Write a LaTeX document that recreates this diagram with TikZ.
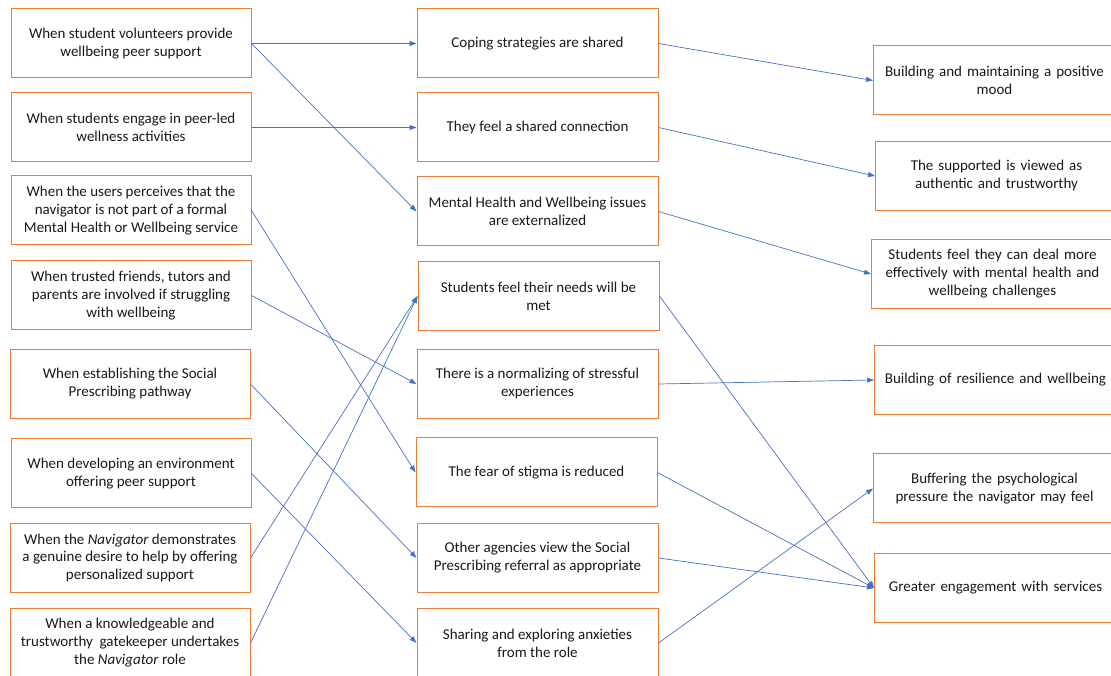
\documentclass[tikz,border=0pt]{standalone}
\usepackage{fontspec}
\setmainfont{Carlito}
\usetikzlibrary{arrows.meta}
\definecolor{boxorange}{HTML}{ED7D31}
\definecolor{arrowblue}{HTML}{4472C4}
\begin{document}
\begin{tikzpicture}[x=1pt,y=1pt,
  box/.style={draw=boxorange, line width=1pt, fill=white, minimum height=69pt,
    inner sep=2pt, align=center, font=\fontsize{15}{18}\selectfont, text=black!90},
  lbox/.style={box, minimum width=240pt},
  mbox/.style={box, minimum width=241pt},
  rbox/.style={box, text width=226pt, inner xsep=8pt, anchor=west},
  conn/.style={draw=arrowblue, line width=0.7pt, -{Triangle[length=7pt,width=5pt]}}
]
\useasboundingbox (0,0) rectangle (1111,675);

% left column
\node[lbox] (L1) at (131,675-43.5) {When student volunteers provide\\wellbeing peer support};
\node[lbox] (L2) at (131,675-127.5) {When students engage in peer-led\\wellness activities};
\node[lbox] (L3) at (131,675-210.5) {When the users perceives that the\\navigator is not part of a formal\\Mental Health or Wellbeing service};
\node[lbox] (L4) at (131,675-295.5) {When trusted friends, tutors and\\parents are involved if struggling\\with wellbeing};
\node[lbox] (L5) at (130,675-384) {When establishing the Social\\Prescribing pathway};
\node[lbox] (L6) at (131,675-473.5) {When developing an environment\\offering peer support};
\node[lbox] (L7) at (130,675-558) {When the \textit{Navigator} demonstrates\\a genuine desire to help by offering\\personalized support};
\node[lbox] (L8) at (130,675-643) {When a knowledgeable and\\trustworthy\ \ gatekeeper undertakes\\the \textit{Navigator} role};

% middle column
\node[mbox] (M1) at (537.5,675-43.5) {Coping strategies are shared};
\node[mbox] (M2) at (537.5,675-127.5) {They feel a shared connection};
\node[mbox] (M3) at (537.5,675-211.5) {Mental Health and Wellbeing issues\\are externalized};
\node[mbox] (M4) at (538.5,675-296) {Students feel their needs will be\\met};
\node[mbox] (M5) at (537.5,675-384) {There is a normalizing of stressful\\experiences};
\node[mbox] (M6) at (536.5,675-472.5) {The fear of stigma is reduced};
\node[mbox] (M7) at (537.5,675-558) {Other agencies view the Social\\Prescribing referral as appropriate};
\node[mbox] (M8) at (537.5,675-643) {Sharing and exploring anxieties\\from the role};

% right column
\node[rbox] (R1) at (873,675-80.5) {Building and maintaining a positive\\mood};
\node[rbox] (R2) at (875,675-176) {The supported is viewed as\\authentic and trustworthy};
\node[rbox] (R3) at (871,675-274) {Students feel they can deal more\\effectively with mental health and\\wellbeing challenges};
\node[rbox] (R4) at (874,675-380) {Building of resilience and wellbeing};
\node[rbox] (R5) at (873,675-488.5) {Buffering the psychological\\pressure the navigator may feel};
\node[rbox] (R6) at (874,675-588) {Greater engagement with services};

% connectors left -> middle
\draw[conn] (L1.east) -- (M1.west);
\draw[conn] (L1.east) -- (M3.west);
\draw[conn] (L2.east) -- (M2.west);
\draw[conn] (L3.east) -- (M6.west);
\draw[conn] (L4.east) -- (M5.west);
\draw[conn] (L5.east) -- (M7.west);
\draw[conn] (L6.east) -- (M8.west);
\draw[conn] (L7.east) -- (M4.west);
\draw[conn] (L8.east) -- (M4.west);

% connectors middle -> right
\draw[conn] (M1.east) -- (R1.west);
\draw[conn] (M2.east) -- (R2.west);
\draw[conn] (M3.east) -- (R3.west);
\draw[conn] (M4.east) -- (R6.west);
\draw[conn] (M5.east) -- (R4.west);
\draw[conn] (M6.east) -- (R6.west);
\draw[conn] (M7.east) -- (R6.west);
\draw[conn] (M8.east) -- (R5.west);
\end{tikzpicture}
\end{document}
